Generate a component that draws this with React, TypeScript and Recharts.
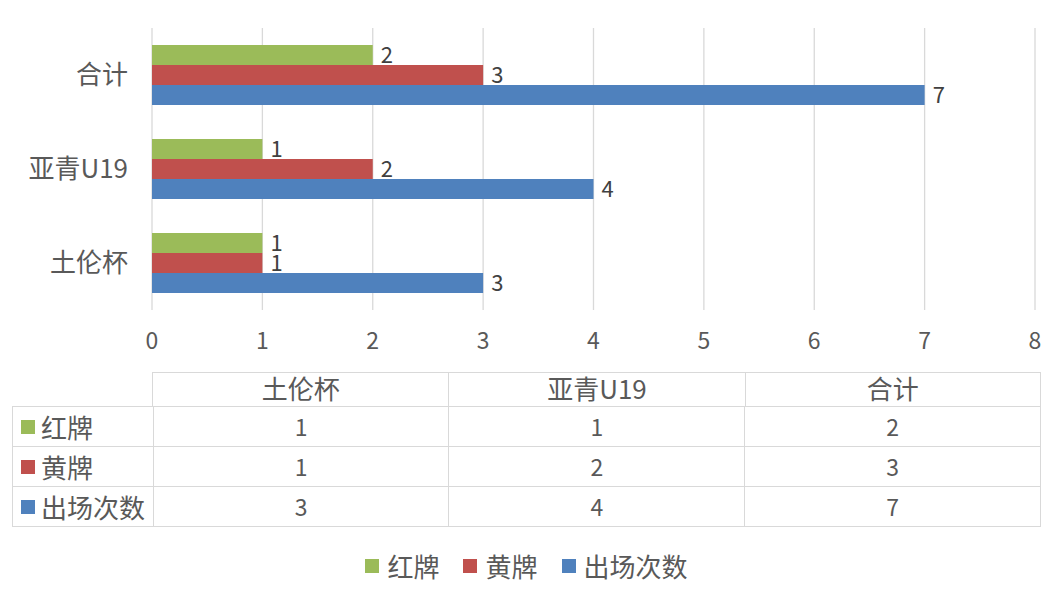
import { BarChart, Bar, XAxis, YAxis, CartesianGrid, LabelList } from 'recharts'

const categories = ['土伦杯', '亚青U19', '合计']
const redCards = [1, 1, 2]
const yellowCards = [1, 2, 3]
const appearances = [3, 4, 7]
const xTicks = [0, 1, 2, 3, 4, 5, 6, 7, 8]

const series = [
  { key: 'red', name: '红牌', color: '#9BBB59', values: redCards },
  { key: 'yellow', name: '黄牌', color: '#C0504D', values: yellowCards },
  { key: 'apps', name: '出场次数', color: '#4F81BD', values: appearances },
]

const data = categories.map((c, i) => ({
  name: c,
  red: redCards[i],
  yellow: yellowCards[i],
  apps: appearances[i],
}))

const font = '"Noto Sans CJK SC", "Noto Sans", sans-serif'
const textColor = '#595959'
const border = '#d9d9d9'

const W = 1053
const plotLeft = 152
const plotRight = 1035
const tableLeft = 12
const tableRight = 1041
const colW = (tableRight - plotLeft) / categories.length

export default function App() {
  return (
    <div style={{ position: 'absolute', left: 0, top: 0, width: W, height: 594, background: '#fff', fontFamily: font, color: textColor }}>
      <BarChart
        width={W}
        height={370}
        data={data}
        layout="vertical"
        margin={{ top: 28, right: W - plotRight, left: 0, bottom: 0 }}
        barCategoryGap={17}
        barGap={0}
      >
        <CartesianGrid horizontal={false} stroke={border} strokeWidth={1.3} />
        <XAxis
          type="number"
          domain={[0, 8]}
          ticks={xTicks}
          axisLine={false}
          tickLine={false}
          tickSize={0}
          tickMargin={23}
          height={60}
          interval={0}
          tick={{ fill: textColor, fontSize: 23, fontFamily: font }}
        />
        <YAxis
          type="category"
          dataKey="name"
          reversed
          width={plotLeft}
          axisLine={false}
          tickLine={false}
          tickSize={0}
          tickMargin={24}
          tick={{ fill: textColor, fontSize: 26, fontFamily: font }}
        />
        {series.map(s => (
          <Bar key={s.key} dataKey={s.key} name={s.name} fill={s.color} barSize={20} isAnimationActive={false}>
            <LabelList dataKey={s.key} position="right" offset={8} fill="#404040" fontSize={22} fontFamily={font} />
          </Bar>
        ))}
      </BarChart>

      {/* data table */}
      <div style={{ position: 'absolute', left: plotLeft, top: 372, width: tableRight - plotLeft, height: 34, display: 'flex', borderTop: `1px solid ${border}`, boxSizing: 'border-box' }}>
        {categories.map((c, i) => (
          <div key={c} style={{ width: colW, textAlign: 'center', fontSize: 26, lineHeight: '30px', borderLeft: `1px solid ${border}`, borderRight: i === categories.length - 1 ? `1px solid ${border}` : 'none', boxSizing: 'border-box' }}>
            {c}
          </div>
        ))}
      </div>
      {series.map((s, r) => (
        <div key={s.key} style={{ position: 'absolute', left: tableLeft, top: 406 + r * 40, width: tableRight - tableLeft, height: 41, display: 'flex', border: `1px solid ${border}`, boxSizing: 'border-box' }}>
          <div style={{ width: plotLeft - tableLeft, display: 'flex', alignItems: 'center', fontSize: 26, whiteSpace: 'nowrap' }}>
            <span style={{ display: 'inline-block', width: 14, height: 14, background: s.color, marginLeft: 8, marginRight: 6 }} />
            {s.name}
          </div>
          {s.values.map((v, i) => (
            <div key={i} style={{ width: colW, textAlign: 'center', fontSize: 23, lineHeight: '38px', borderLeft: `1px solid ${border}`, boxSizing: 'border-box' }}>
              {v}
            </div>
          ))}
        </div>
      ))}

      {/* legend */}
      <div style={{ position: 'absolute', left: 0, top: 547, width: W, display: 'flex', justifyContent: 'center', alignItems: 'center', fontSize: 26 }}>
        {series.map(s => (
          <div key={s.key} style={{ display: 'flex', alignItems: 'center', margin: '0 12px' }}>
            <span style={{ display: 'inline-block', width: 14, height: 14, background: s.color, marginRight: 8 }} />
            {s.name}
          </div>
        ))}
      </div>
    </div>
  )
}
